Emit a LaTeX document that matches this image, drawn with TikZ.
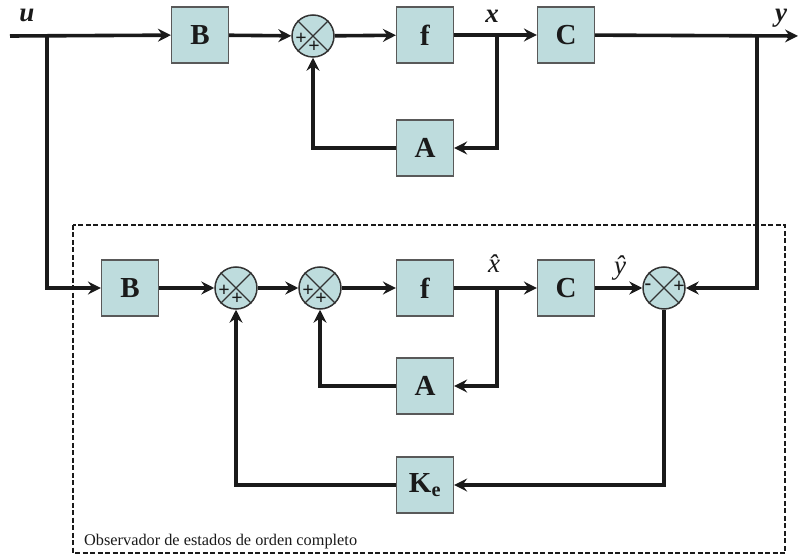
\documentclass[tikz,border=0pt]{standalone}
\usepackage{fontspec}
\setmainfont{Liberation Serif}
\usetikzlibrary{arrows.meta}
\definecolor{boxfill}{HTML}{BEDCDD}
\definecolor{ink}{HTML}{1A1A1A}
\tikzset{
  blk/.style={draw=black!65, line width=1.2pt, fill=boxfill, minimum width=57pt, minimum height=56pt, inner sep=0pt, font=\fontsize{29}{29}\selectfont\bfseries, text=ink},
  sumc/.style={circle, draw=black!80, line width=1.5pt, fill=boxfill, minimum size=42pt, inner sep=0pt},
  arr/.style={draw=ink, line width=3.6pt, -{Stealth[length=13pt,width=13pt,inset=4.5pt]}},
  sig/.style={font=\fontsize{20}{20}\selectfont\bfseries, inner sep=0pt, text=ink},
  vlab/.style={font=\fontsize{27}{27}\selectfont\bfseries\itshape, inner sep=0pt, text=ink},
  hlab/.style={font=\fontsize{27}{27}\selectfont\itshape, inner sep=0pt, text=ink}
}
\newcommand{\crossin}[1]{%
  \draw[black!80, line width=1.3pt] (#1.45) -- (#1.225) (#1.135) -- (#1.315);}
\begin{document}
\begin{tikzpicture}[x=1pt,y=-1pt]
\useasboundingbox (0,0) rectangle (798,556);
% dashed observer frame
\draw[line width=1.4pt, dash pattern=on 5pt off 2.5pt, draw=ink] (73,225) rectangle (785,553);
\node[anchor=base west, font=\fontsize{16.3}{16.3}\selectfont, text=ink, inner sep=0pt] (obs) at (84,545) {Observador de estados de orden completo};

% top plant
\coordinate (uin) at (10,36);
\coordinate (bu) at (47,36);
\node[vlab] (ul) at (27,15) {u};
\node[blk] (B1) at (200,35) {B};
\node[sumc] (S1) at (313,36) {};
\crossin{S1}
\node[sig] (p1a) at (301,39) {+};
\node[sig] (p1b) at (314,47) {+};
\node[blk] (f1) at (425,35) {f};
\node[blk] (C1) at (566,35) {C};
\node[blk] (A1) at (425,148) {A};
\coordinate (bx1) at (497,36);
\coordinate (by) at (757,36);
\coordinate (yout) at (798,36);
\node[vlab] (xl) at (492,16) {x};
\node[vlab] (yl) at (781,18) {y};

\draw[arr] (uin) -- (B1);
\draw[arr] (B1) -- (S1);
\draw[arr] (S1) -- (f1);
\draw[arr] (f1) -- (C1);
\draw[arr] (bx1) |- (A1);
\draw[arr] (A1) -| (S1);
\draw[arr] (C1) -- (yout);

% observer
\node[blk] (B2) at (130,288) {B};
\node[sumc] (S2) at (236,288) {};
\crossin{S2}
\node[sig] (p2a) at (224,291) {+};
\node[sig] (p2b) at (237,299) {+};
\node[sumc] (S3) at (320,288) {};
\crossin{S3}
\node[sig] (p3a) at (308,291) {+};
\node[sig] (p3b) at (321,299) {+};
\node[blk] (f2) at (425,288) {f};
\node[blk] (C2) at (566,288) {C};
\node[sumc] (S4) at (664,288) {};
\crossin{S4}
\node[sig] (m4a) at (648,287) {-};
\node[sig] (p4b) at (679,287) {+};
\node[blk] (A2) at (425,386) {A};
\node[blk] (K) at (425,485) {K\textsubscript{e}};
\coordinate (bx2) at (497,288);
\node[hlab] (xh) at (494,264) {\^{x}};
\node[hlab] (yh) at (620,268) {\^{y}};

\draw[arr] (bu) |- (B2);
\draw[arr] (B2) -- (S2);
\draw[arr] (S2) -- (S3);
\draw[arr] (S3) -- (f2);
\draw[arr] (f2) -- (C2);
\draw[arr] (C2) -- (S4);
\draw[arr] (by) |- (S4);
\draw[arr] (bx2) |- (A2);
\draw[arr] (A2) -| (S3);
\draw[arr] (S4) |- (K);
\draw[arr] (K) -| (S2);
\end{tikzpicture}
\end{document}
